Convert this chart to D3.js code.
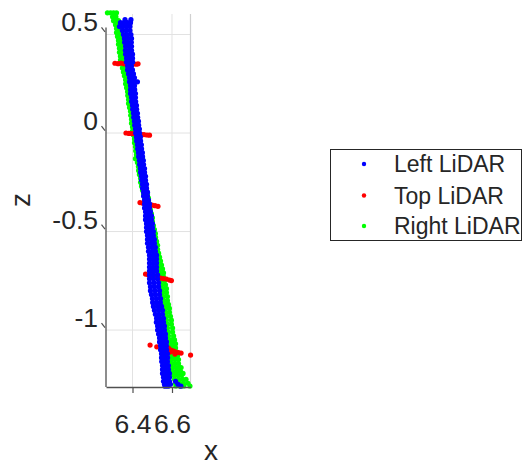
<!DOCTYPE html>
<html><head><meta charset="utf-8">
<script src="https://cdn.jsdelivr.net/npm/d3@7"></script>
<style>body{margin:0;background:#fff} svg{display:block} text{font-family:"Liberation Sans",Arial,Helvetica,sans-serif}</style>
</head><body><svg id="c" width="528" height="469"></svg>
<script>
const seriesNames = ["Left LiDAR", "Top LiDAR", "Right LiDAR"];
const seriesColors = ["#0000ff", "#ff0000", "#00ff00"];
const xTicks = [6.4, 6.6];
const xTickLabels = ["6.4", "6.6"];
const zTicks = [-1, -0.5, 0, 0.5];
const zTickLabels = ["-1", "-0.5", "0", "0.5"];
const xDomain = [6.2658, 6.6937];
const zDomain = [-1.289, 0.604];
const xLabel = "x", zLabel = "z";

// Left LiDAR: rows of [z, x1, x2, ...]
const leftRows = [
[0.575,6.362,6.392],[0.56,6.339,6.357,6.375,6.390],[0.54,6.334,6.352,6.370,6.387],[0.52,6.349,6.367,6.387],
[0.50,6.354,6.372,6.392],[0.48,6.359,6.377,6.395],[0.46,6.360,6.376,6.394],[0.44,6.365,6.380,6.395],
[0.42,6.364,6.382,6.395],[0.40,6.365,6.382,6.400],[0.38,6.370,6.385,6.400],[0.36,6.369,6.387,6.401],
[0.34,6.375,6.385,6.395],[0.32,6.375,6.387,6.400],[0.30,6.380,6.392,6.405],[0.28,6.385,6.397,6.410],
[0.26,6.385,6.400,6.415,6.425],[0.24,6.390,6.400,6.410],[0.22,6.390,6.401,6.411],[0.20,6.390,6.403,6.415],
[0.18,6.395,6.405,6.415],[0.16,6.395,6.406,6.416],[0.14,6.400,6.410,6.420],[0.12,6.401,6.411,6.421],
[0.10,6.405,6.415,6.425],[0.08,6.406,6.416,6.426],[0.06,6.410,6.420,6.430],[0.04,6.411,6.421,6.431],
[0.02,6.415,6.425,6.435],[0.00,6.416,6.426,6.436],[-0.02,6.420,6.430,6.440],[-0.04,6.421,6.431,6.441],
[-0.06,6.425,6.435,6.445],[-0.08,6.426,6.436,6.446],[-0.10,6.430,6.440,6.450],[-0.12,6.431,6.441,6.451],
[-0.14,6.435,6.445,6.455],[-0.16,6.436,6.446,6.456],[-0.18,6.440,6.450,6.461],[-0.20,6.441,6.451,6.461],
[-0.22,6.445,6.456,6.466],[-0.24,6.446,6.456,6.466],[-0.26,6.450,6.461,6.471],[-0.28,6.451,6.461,6.471],
[-0.30,6.456,6.466,6.476],[-0.32,6.456,6.466,6.476],[-0.34,6.461,6.471,6.481],[-0.36,6.461,6.473,6.486],
[-0.38,6.461,6.473,6.486],[-0.40,6.466,6.478,6.491],[-0.42,6.466,6.481,6.496],[-0.44,6.466,6.481,6.496],
[-0.46,6.471,6.486,6.501],[-0.48,6.471,6.486,6.501],[-0.50,6.471,6.489,6.506],[-0.52,6.476,6.491,6.506],
[-0.54,6.476,6.494,6.511],[-0.56,6.476,6.494,6.511],[-0.58,6.481,6.499,6.516],[-0.60,6.481,6.499,6.516],
[-0.62,6.486,6.504,6.522],[-0.64,6.486,6.504,6.522],[-0.66,6.486,6.504,6.522],[-0.68,6.486,6.504,6.522],
[-0.70,6.486,6.504,6.522],[-0.72,6.486,6.506,6.527],[-0.74,6.486,6.506,6.527],[-0.76,6.486,6.509,6.532],
[-0.78,6.491,6.511,6.532],[-0.80,6.491,6.514,6.537],[-0.82,6.496,6.516,6.537],[-0.84,6.501,6.522,6.542],
[-0.86,6.502,6.521,6.541],[-0.88,6.506,6.527,6.547],[-0.90,6.511,6.532,6.552],[-0.92,6.516,6.534,6.552],
[-0.94,6.522,6.539,6.557],[-0.96,6.521,6.540,6.557],[-0.98,6.527,6.544,6.562],[-1.00,6.527,6.545,6.562],
[-1.02,6.532,6.549,6.567],[-1.04,6.537,6.552,6.567],[-1.06,6.537,6.554,6.572],[-1.08,6.542,6.557,6.572],
[-1.10,6.542,6.557,6.573],[-1.12,6.547,6.562,6.577],[-1.14,6.547,6.562,6.578],[-1.16,6.548,6.563,6.577],
[-1.18,6.552,6.567,6.582],[-1.20,6.552,6.567,6.582],[-1.22,6.552,6.570,6.587],[-1.24,6.557,6.572,6.587],
[-1.26,6.557,6.572,6.587,6.618],[-1.275,6.562,6.577,6.592,6.630],[-1.285,6.565,6.580,6.645]
];

// Top LiDAR: [x, z] points
const topPoints = [
[6.311,0.354],[6.327,0.352],[6.342,0.355],[6.357,0.351],[6.372,0.353],[6.387,0.350],[6.403,0.352],[6.418,0.349],[6.428,0.351],
[6.367,0.000],[6.382,-0.002],[6.397,-0.003],[6.413,-0.004],[6.428,-0.006],[6.443,-0.007],[6.458,-0.008],[6.473,-0.010],[6.486,-0.011],
[6.438,-0.353],[6.453,-0.356],[6.468,-0.359],[6.484,-0.362],[6.499,-0.366],[6.514,-0.369],[6.529,-0.372],
[6.466,-0.716],[6.481,-0.721],[6.496,-0.723],[6.511,-0.726],[6.527,-0.731],[6.542,-0.736],[6.557,-0.739],[6.572,-0.741],[6.587,-0.746],[6.597,-0.749],
[6.489,-1.076],[6.523,-1.085],[6.582,-1.091],[6.595,-1.102],[6.608,-1.107],[6.620,-1.112],[6.633,-1.114],[6.646,-1.117],
[6.590,-1.112],[6.615,-1.122],[6.694,-1.127]
];

// Right LiDAR: rows of [z, x1, x2, ...]
const rightRows = [
[0.61,6.273,6.289,6.304,6.319],[0.59,6.299,6.316],[0.57,6.304,6.319,6.329],[0.55,6.314,6.329],
[0.53,6.319,6.334],[0.51,6.319,6.334],[0.49,6.324,6.339],[0.47,6.329,6.339],[0.45,6.329,6.344],
[0.43,6.334,6.344],[0.41,6.334,6.349],[0.39,6.339,6.349],[0.37,6.339,6.354],[0.35,6.344,6.354],
[0.33,6.349,6.359],[0.31,6.354,6.362],[0.29,6.359,6.365],[0.27,6.365,6.368],[0.25,6.365,6.370],
[0.23,6.370,6.375],[0.21,6.375,6.380],[0.19,6.376,6.381],[0.17,6.380,6.385],[0.15,6.380,6.390],
[0.13,6.385,6.395],[0.11,6.390,6.400],[0.09,6.391,6.401],[0.07,6.395,6.405],[0.05,6.395,6.410],
[0.03,6.400,6.410],[0.01,6.400,6.415],[-0.01,6.405,6.420],[-0.03,6.410,6.425],[-0.05,6.410,6.430],
[-0.07,6.415,6.435],[-0.09,6.416,6.436,6.440],[-0.11,6.420,6.441],[-0.13,6.415,6.435,6.451],[-0.15,6.425,6.446],
[-0.17,6.430,6.451],[-0.19,6.431,6.451],[-0.21,6.435,6.456],[-0.23,6.441,6.461],[-0.25,6.441,6.463],
[-0.27,6.446,6.466],[-0.29,6.451,6.471],[-0.31,6.456,6.476],[-0.33,6.461,6.481],[-0.35,6.466,6.481],
[-0.37,6.471,6.486],[-0.39,6.476,6.491],[-0.41,6.481,6.496],[-0.43,6.481,6.501],[-0.45,6.486,6.501],
[-0.47,6.491,6.506],[-0.49,6.496,6.511],[-0.51,6.501,6.516],[-0.53,6.502,6.517],[-0.55,6.506,6.522],
[-0.57,6.511,6.527],[-0.59,6.512,6.527],[-0.61,6.516,6.532],[-0.63,6.522,6.537],[-0.65,6.522,6.542],
[-0.67,6.527,6.547],[-0.69,6.532,6.552],[-0.71,6.537,6.557],[-0.73,6.538,6.557],[-0.75,6.542,6.562],
[-0.77,6.547,6.567],[-0.79,6.552,6.572],[-0.81,6.553,6.572],[-0.83,6.557,6.577],[-0.85,6.558,6.577],
[-0.87,6.562,6.582],[-0.89,6.567,6.587],[-0.91,6.568,6.587],[-0.93,6.572,6.592],[-0.95,6.572,6.597],
[-0.97,6.577,6.597],[-0.99,6.577,6.603],[-1.01,6.582,6.603],[-1.03,6.582,6.608],[-1.05,6.582,6.597,6.613],
[-1.07,6.587,6.603,6.618],[-1.09,6.587,6.603,6.618],[-1.11,6.587,6.605,6.623],[-1.13,6.592,6.610,6.628],
[-1.15,6.597,6.615,6.633],[-1.17,6.597,6.615,6.633],[-1.19,6.603,6.620,6.638,6.646],[-1.21,6.603,6.623,6.643],
[-1.22,6.656],[-1.23,6.608,6.628,6.648],[-1.25,6.613,6.633,6.653,6.671],[-1.27,6.618,6.638,6.658,6.681],
[-1.284,6.620,6.640,6.660,6.691]
];

const rowsToPoints = rows => rows.flatMap(r => r.slice(1).map(x => [x, r[0]]));
const leftPoints = rowsToPoints(leftRows);
const rightPoints = rowsToPoints(rightRows);

const svg = d3.select("#c");
const x = d3.scaleLinear().domain(xDomain).range([106, 190.5]);
const y = d3.scaleLinear().domain(zDomain).range([387, 14]);
const ink = "#262626";
const axisInk = "#505050";

// grid
const grid = svg.append("g");
grid.selectAll("line.h").data(zTicks).join("line")
  .attr("x1", x(xDomain[0])).attr("x2", x(xDomain[1]))
  .attr("y1", d => y(d)).attr("y2", d => y(d))
  .attr("stroke", "#e2e2e2").attr("stroke-width", 1);
grid.selectAll("line.v").data(xTicks).join("line")
  .attr("x1", d => x(d)).attr("x2", d => x(d))
  .attr("y1", y(zDomain[1])).attr("y2", y(zDomain[0]))
  .attr("stroke", "#e2e2e2").attr("stroke-width", 1);
grid.append("line")
  .attr("x1", x(xDomain[1])).attr("x2", x(xDomain[1]))
  .attr("y1", y(zDomain[1])).attr("y2", y(zDomain[0]))
  .attr("stroke", "#d0d0d0").attr("stroke-width", 1.2);

// points: Right, Top, Left (back to front)
const R = 2.6;
const layers = [[rightPoints, 2], [topPoints, 1], [leftPoints, 0]];
layers.forEach(([pts, i]) => {
  svg.append("g").selectAll("circle").data(pts).join("circle")
    .attr("cx", d => x(d[0])).attr("cy", d => y(d[1])).attr("r", R)
    .attr("fill", seriesColors[i]);
});

// left axis
svg.append("line").attr("x1", x(xDomain[0])).attr("x2", x(xDomain[0]))
  .attr("y1", y(0.535)).attr("y2", y(zDomain[0]))
  .attr("stroke", axisInk).attr("stroke-width", 1.3);
const yAxis = d3.axisLeft(y).tickValues(zTicks).tickFormat((d, i) => zTickLabels[i]).tickSize(0).tickPadding(8);
const gy = svg.append("g").attr("transform", `translate(${x(xDomain[0])},0)`).call(yAxis);
gy.select(".domain").remove();
gy.selectAll("text").attr("font-size", 26.5).attr("fill", ink)
  .attr("font-family", '"Liberation Sans",Arial,sans-serif')
  .attr("dy", 0).attr("y", -3.5).attr("x", -8);
svg.append("g").selectAll("line").data(zTicks).join("line")
  .attr("x1", x(xDomain[0]) - 4.5).attr("y1", d => y(d) - 7)
  .attr("x2", x(xDomain[0]) - 1).attr("y2", d => y(d) - 2.5)
  .attr("stroke", axisInk).attr("stroke-width", 1.2);

// bottom axis
const xAxis = d3.axisBottom(x).tickValues(xTicks).tickFormat((d, i) => xTickLabels[i]).tickSizeInner(6).tickSizeOuter(0);
const gx = svg.append("g").attr("transform", `translate(0,${y(zDomain[0])})`).call(xAxis);
gx.select(".domain").attr("stroke", axisInk).attr("stroke-width", 1.3);
gx.selectAll(".tick line").attr("stroke", axisInk).attr("stroke-width", 1.2);
gx.selectAll("text").attr("font-size", 26.5).attr("fill", ink)
  .attr("font-family", '"Liberation Sans",Arial,sans-serif')
  .attr("dy", 0).attr("y", 46);

// axis labels
svg.append("text").attr("x", 211).attr("y", 460).attr("text-anchor", "middle")
  .attr("font-size", 28).attr("fill", ink).text(xLabel);
svg.append("text").attr("transform", "translate(30,200) rotate(-90)").attr("text-anchor", "middle")
  .attr("font-size", 28).attr("fill", ink).text(zLabel);

// legend
const lg = svg.append("g");
lg.append("rect").attr("x", 330.5).attr("y", 149.5).attr("width", 191).attr("height", 91)
  .attr("fill", "#fff").attr("stroke", ink).attr("stroke-width", 1);
const rowY = [164, 195.5, 226];
seriesNames.forEach((n, i) => {
  lg.append("circle").attr("cx", 364).attr("cy", rowY[i]).attr("r", 2.2).attr("fill", seriesColors[i]);
  lg.append("text").attr("x", 394).attr("y", rowY[i] + 8).attr("font-size", 23).attr("fill", ink).text(n);
});
</script></body></html>
